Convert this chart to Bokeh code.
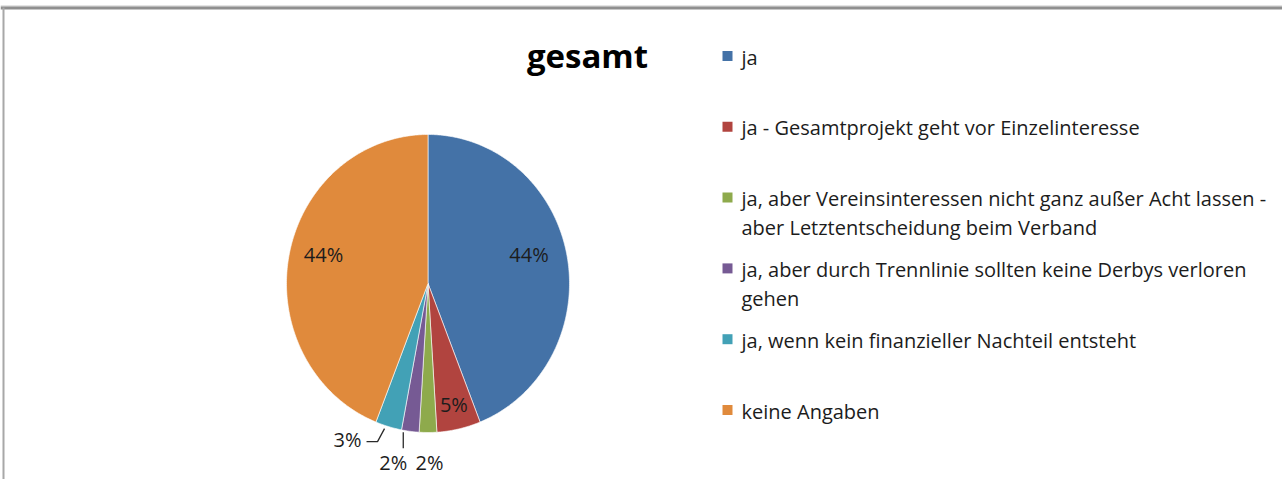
import numpy as np
from bokeh.plotting import figure
from bokeh.models import Range1d
from bokeh.core.properties import value
from bokeh.embed import file_html
from bokeh.resources import INLINE

# ---------------- data ----------------
title = "gesamt"
categories = [
    "ja",
    "ja - Gesamtprojekt geht vor Einzelinteresse",
    "ja, aber Vereinsinteressen nicht ganz außer Acht lassen -\naber Letztentscheidung beim Verband",
    "ja, aber durch Trennlinie sollten keine Derbys verloren\ngehen",
    "ja, wenn kein finanzieller Nachteil entsteht",
    "keine Angaben",
]
shares = [44, 5, 2, 2, 3, 44]
labels = ["44%", "5%", "2%", "2%", "3%", "44%"]
colors = ["#4472A7", "#B1443F", "#8EAA4C", "#765A94", "#42A1B6", "#E08A3C"]

# ---------------- layout ----------------
W, H = 1282, 479
FONT = "Open Sans"
TXT = "#1c1c1c"
cx, cy = 427.5, 283.0      # pie centre (screen-like units, y down)
rx, ry = 141.5, 149.0      # pie radii
# label offsets relative to the slice's mid-point on the rim
label_off = [(-38, -1), (-5, -24), (1.5, 30), (-17, 31), (-41, 13), (34.5, -1)]

p = figure(width=W, height=H, x_range=Range1d(0, W), y_range=Range1d(H, 0),
           output_backend="svg", toolbar_location=None, min_border=0,
           background_fill_color="white", border_fill_color="white")
p.axis.visible = False
p.grid.visible = False
p.outline_line_color = None

# frame lines (top and left) as in the screenshot
p.segment(x0=[0], y0=[5.5], x1=[W], y1=[5.5], line_color="#c8c8c8", line_width=1)
p.segment(x0=[0], y0=[7.5], x1=[W], y1=[7.5], line_color="#8f8f8f", line_width=3)
p.segment(x0=[3], y0=[7], x1=[3], y1=[H], line_color="#a8a8a8", line_width=2)

# ---------------- pie ----------------
vals = np.array(shares, dtype=float)
frac = vals / vals.sum()
ends = np.cumsum(frac) * 2 * np.pi
starts = ends - frac * 2 * np.pi

xs, ys = [], []
for a0, a1 in zip(starts, ends):
    t = np.linspace(a0, a1, max(8, int((a1 - a0) * 80)))
    xs.append(np.concatenate([[cx], cx + rx * np.sin(t)]).tolist())
    ys.append(np.concatenate([[cy], cy - ry * np.cos(t)]).tolist())
p.patches(xs=xs, ys=ys, fill_color=colors, line_color="white", line_alpha=0.6, line_width=1)

mids = (starts + ends) / 2
ex = cx + rx * np.sin(mids)
ey = cy - ry * np.cos(mids)
lx = [ex[i] + label_off[i][0] for i in range(len(labels))]
ly = [ey[i] + label_off[i][1] for i in range(len(labels))]
p.text(x=lx, y=ly, text=labels, text_font=value(FONT), text_font_size="20px",
       text_color=TXT, text_align="center", text_baseline="middle")

# leader lines for the small outer labels (cyan and purple)
ic, ip = 4, 3
p.line(x=[ex[ic] - 4, lx[ic] + 30, lx[ic] + 19], y=[ey[ic] + 2, ly[ic] + 2, ly[ic] + 2],
       line_color="#2a2a2a", line_width=1.3)
p.line(x=[lx[ip] + 10, lx[ip] + 10], y=[ey[ip] + 1, ly[ip] - 14],
       line_color="#2a2a2a", line_width=1.3)

# ---------------- title ----------------
p.text(x=[587], y=[55], text=[title], text_font=value(FONT), text_font_size="33px",
       text_font_style="bold", text_color="#000000", text_align="center",
       text_baseline="middle")

# ---------------- legend ----------------
mk_x, tx_x = 727, 741
mk_y0, mk_dy, line_dy = 55.5, 70.8, 29
mk_y = [mk_y0 + i * mk_dy for i in range(len(categories))]
p.rect(x=[mk_x] * len(categories), y=mk_y, width=10, height=10,
       fill_color=colors, line_color=None)

t_x, t_y, t_s = [], [], []
for i, cat in enumerate(categories):
    for k, line in enumerate(cat.split("\n")):
        t_x.append(tx_x)
        t_y.append(mk_y[i] + 1 + k * line_dy)
        t_s.append(line)
p.text(x=t_x, y=t_y, text=t_s, text_font=value(FONT), text_font_size="20px",
       text_color=TXT, text_align="left", text_baseline="middle")

open("out.html", "w").write(file_html(p, INLINE))
